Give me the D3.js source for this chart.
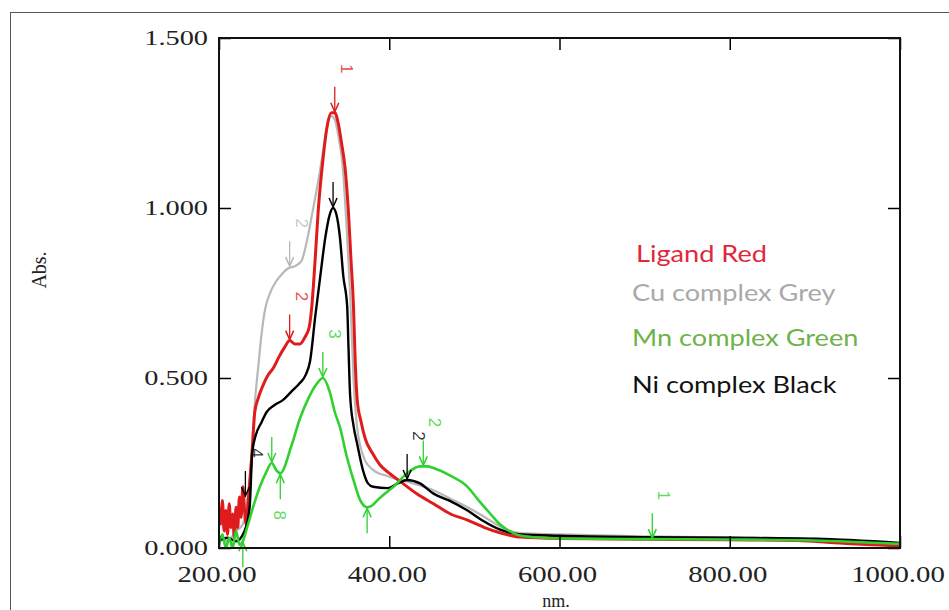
<!DOCTYPE html>
<html>
<head>
<meta charset="utf-8">
<script src="https://cdnjs.cloudflare.com/ajax/libs/d3/7.8.5/d3.min.js"></script>
<style>
  html, body { margin: 0; padding: 0; background: #ffffff; }
  svg { display: block; }
</style>
</head>
<body>
<svg id="chart" width="949" height="610"></svg>
<script>
// ---------------- DATA ----------------
const xTicks = [200, 400, 600, 800, 1000];
const xTickLabels = ["200.00", "400.00", "600.00", "800.00", "1000.00"];
const yTicks = [0, 0.5, 1.0, 1.5];
const yTickLabels = ["0.000", "0.500", "1.000", "1.500"];

const legendLabels = ["Ligand Red", "Cu complex Grey", "Mn complex Green", "Ni complex Black"];

// [nm, Abs]
const ligandRed = [
  [200,0.12],[202,0.07],[204,0.14],[206,0.05],[208,0.11],[210,0.04],[212,0.13],[214,0.06],
  [216,0.10],[218,0.03],[220,0.12],[222,0.06],[224,0.15],[226,0.09],[228,0.18],[230,0.11],
  [232,0.07],[234,0.13],[236,0.19],[238.8,0.28],[242,0.40],[246,0.44],[252,0.48],[258,0.51],
  [264,0.53],[270,0.56],[277,0.59],[283,0.61],[289,0.60],[295,0.60],[301,0.62],[306,0.65],
  [309,0.71],[313,0.85],[316.5,0.99],[322,1.14],[327,1.24],[332,1.28],[336,1.28],[340,1.25],
  [344,1.19],[348,1.12],[352,0.99],[355,0.85],[358,0.71],[360,0.55],[362.4,0.435],[367,0.37],
  [372,0.32],[380,0.28],[389,0.245],[400,0.22],[416,0.19],[432,0.16],[452,0.13],[472,0.10],
  [492,0.082],[512,0.06],[531,0.044],[554,0.032],[600,0.028],[700,0.026],[800,0.024],
  [880,0.022],[920,0.016],[960,0.010],[1000,0.006]
];
const cuGrey = [
  [200,0.03],[210,0.02],[220,0.05],[228,0.07],[232,0.12],[236,0.20],[240,0.34],[242.4,0.435],
  [246,0.53],[250,0.63],[254,0.70],[260,0.75],[266,0.78],[272,0.80],[281,0.822],[290,0.83],
  [297,0.845],[303,0.90],[310,0.99],[318,1.10],[323,1.18],[327,1.24],[332,1.27],[336,1.26],
  [341,1.20],[345,1.13],[350,0.94],[354,0.75],[358,0.50],[362,0.36],[366,0.30],[371,0.26],
  [381,0.23],[400,0.21],[421,0.195],[452,0.17],[472,0.145],[492,0.12],[506,0.10],[519,0.08],
  [537,0.055],[554,0.044],[600,0.040],[700,0.034],[800,0.031],[900,0.028],[950,0.020],[1000,0.012]
];
const mnGreen = [
  [200,0.01],[204,0.04],[208,0.0],[212,0.03],[216,0.0],[220,0.05],[224,0.01],[228,0.02],
  [233,0.06],[240,0.12],[248,0.18],[255,0.22],[262,0.25],[267,0.23],[272,0.22],[285,0.30],
  [295,0.38],[305,0.44],[314,0.48],[322,0.50],[330,0.46],[336,0.40],[342,0.356],[350,0.27],
  [358,0.20],[366,0.14],[374,0.12],[380,0.125],[386,0.14],[395,0.16],[405,0.18],[421,0.22],
  [436,0.24],[445,0.24],[452,0.235],[470,0.215],[492,0.18],[505,0.14],[519,0.10],[530,0.07],
  [539,0.053],[555,0.036],[580,0.030],[600,0.028],[700,0.026],[800,0.025],[900,0.022],[1000,0.012]
];
const niBlack = [
  [200,0.02],[210,0.03],[220,0.02],[230,0.05],[236,0.12],[239,0.28],[243,0.33],[250,0.37],
  [256,0.40],[265,0.42],[275,0.435],[285,0.46],[295,0.485],[302,0.51],[307,0.55],[313,0.68],
  [319,0.80],[325,0.915],[330,0.98],[334,1.00],[338,0.98],[342,0.915],[346,0.80],[350.6,0.71],
  [352,0.60],[354,0.45],[358,0.36],[362,0.31],[369,0.23],[375,0.19],[381,0.18],[398,0.176],
  [410,0.19],[421,0.20],[436,0.19],[452,0.16],[470,0.14],[492,0.11],[510,0.08],[531,0.053],
  [555,0.040],[600,0.036],[700,0.032],[800,0.030],[900,0.027],[1000,0.015]
];

// peak pick markers: [series, nm, Abs, label, direction]
const peakMarks = [
  ["red", 336, 1.28, "1", "down"],
  ["grey", 283, 0.826, "2", "down"],
  ["red", 283, 0.61, "2", "down"],
  ["black", 334, 1.00, "", "down"],
  ["green", 322, 0.50, "3", "down"],
  ["green", 262, 0.25, "", "down"],
  ["green", 272, 0.22, "8", "up"],
  ["green", 440, 0.24, "2", "down"],
  ["black", 421, 0.20, "2", "down"],
  ["green", 374, 0.12, "", "up"],
  ["green", 709, 0.026, "1", "down"],
  ["black", 231, 0.15, "4", "down"],
  ["green", 228, 0.02, "", "up"]
];

// ---------------- STYLE ----------------
const colors = { red: "#e01b1b", grey: "#b8b8b8", green: "#2fd12f", black: "#000000" };
const legendColors = ["#e0283a", "#a9a9a9", "#6fb24a", "#111111"];

const svg = d3.select("#chart");
const L = 219, R = 900, T = 38, B = 548;

const x = d3.scaleLinear().domain([200, 1000]).range([L, R]);
const y = d3.scaleLinear().domain([0, 1.5]).range([B, T]);

// outer image frame
svg.append("rect").attr("x", 10.5).attr("y", 12.5).attr("width", 960).attr("height", 620)
  .attr("fill", "none").attr("stroke", "#555").attr("stroke-width", 1);

// clip
svg.append("clipPath").attr("id", "plotclip").append("rect")
  .attr("x", L).attr("y", T - 2).attr("width", R - L).attr("height", B - T + 2);

const line = d3.line().x(d => x(d[0])).y(d => y(d[1])).curve(d3.curveMonotoneX);

const plot = svg.append("g").attr("clip-path", "url(#plotclip)");

const series = [
  { key: "grey", data: cuGrey, w: 2.2 },
  { key: "red", data: ligandRed, w: 3 },
  { key: "black", data: niBlack, w: 2.4 },
  { key: "green", data: mnGreen, w: 2.6 }
];
series.forEach(s => {
  plot.append("path").datum(s.data).attr("d", line)
    .attr("fill", "none").attr("stroke", colors[s.key]).attr("stroke-width", s.w)
    .attr("stroke-linejoin", "round");
});

// peak markers
peakMarks.forEach(([k, nm, a, lab, dir]) => {
  const px = x(nm), py = y(a);
  const g = svg.append("g").attr("stroke", colors[k]).attr("fill", colors[k]);
  if (dir === "down") {
    g.append("line").attr("x1", px).attr("x2", px).attr("y1", py - 26).attr("y2", py - 2).attr("stroke-width", 1.3);
    g.append("path").attr("d", `M${px - 4},${py - 10} L${px},${py - 1} L${px + 4},${py - 10}`)
      .attr("fill", "none").attr("stroke-width", 1.5);
    if (lab) g.append("text").attr("transform", `translate(${px + 6},${py - 44}) rotate(90)`)
      .attr("stroke", "none").attr("font-family", "Liberation Sans, Arial, sans-serif")
      .attr("font-size", 17).attr("text-anchor", "middle").attr("fill-opacity", 0.8).text(lab);
  } else {
    g.append("line").attr("x1", px).attr("x2", px).attr("y1", py + 2).attr("y2", py + 26).attr("stroke-width", 1.3);
    g.append("path").attr("d", `M${px - 4},${py + 10} L${px},${py + 1} L${px + 4},${py + 10}`)
      .attr("fill", "none").attr("stroke-width", 1.5);
    if (lab) g.append("text").attr("transform", `translate(${px - 6},${py + 42}) rotate(90)`)
      .attr("stroke", "none").attr("font-family", "Liberation Sans, Arial, sans-serif")
      .attr("font-size", 17).attr("text-anchor", "middle").attr("fill-opacity", 0.8).text(lab);
  }
});

// axes (frame with inward ticks)
const tickLen = 12;
svg.append("g").attr("transform", `translate(${L},0)`)
  .call(d3.axisRight(y).tickValues(yTicks).tickSize(tickLen).tickFormat(""))
  .call(g => g.select(".domain").remove());
svg.append("g").attr("transform", `translate(${R},0)`)
  .call(d3.axisLeft(y).tickValues(yTicks).tickSize(tickLen).tickFormat(""))
  .call(g => g.select(".domain").remove());
svg.append("g").attr("transform", `translate(0,${T})`)
  .call(d3.axisBottom(x).tickValues(xTicks).tickSize(tickLen).tickFormat(""))
  .call(g => g.select(".domain").remove());
svg.append("g").attr("transform", `translate(0,${B})`)
  .call(d3.axisTop(x).tickValues(xTicks).tickSize(tickLen).tickFormat(""))
  .call(g => g.select(".domain").remove());
svg.selectAll(".tick line").attr("stroke", "#000").attr("stroke-width", 1.5);

svg.append("rect").attr("x", L).attr("y", T).attr("width", R - L).attr("height", B - T)
  .attr("fill", "none").attr("stroke", "#111").attr("stroke-width", 2);

// tick labels
yTicks.forEach((v, i) => {
  svg.append("text").attr("transform", `translate(208,${y(v) + 7}) scale(1.35,1)`)
    .attr("text-anchor", "end").attr("font-family", "Liberation Serif, serif")
    .attr("font-size", 21).attr("fill", "#222").text(yTickLabels[i]);
});
xTicks.forEach((v, i) => {
  svg.append("text").attr("transform", `translate(${x(v) - 2},${B + 34}) scale(1.2,1)`)
    .attr("text-anchor", "middle").attr("font-family", "Liberation Serif, serif")
    .attr("font-size", 24).attr("fill", "#222").text(xTickLabels[i]);
});

// axis titles
svg.append("text").attr("transform", "translate(46,270) rotate(-90)")
  .attr("text-anchor", "middle").attr("font-family", "Liberation Serif, serif")
  .attr("font-size", 20).attr("fill", "#222").text("Abs.");
svg.append("text").attr("x", 556).attr("y", 607)
  .attr("text-anchor", "middle").attr("font-family", "Liberation Serif, serif")
  .attr("font-size", 18).attr("fill", "#222").text("nm.");

// legend text
const legendY = [262, 301, 346, 393];
const legendX = [636, 632, 632, 632];
legendLabels.forEach((t, i) => {
  svg.append("text").attr("transform", `translate(${legendX[i]},${legendY[i]}) scale(1.18,1)`)
    .attr("font-family", "Lato, 'Open Sans', sans-serif").attr("font-size", 23)
    .attr("fill", legendColors[i]).text(t);
});
</script>
</body>
</html>
